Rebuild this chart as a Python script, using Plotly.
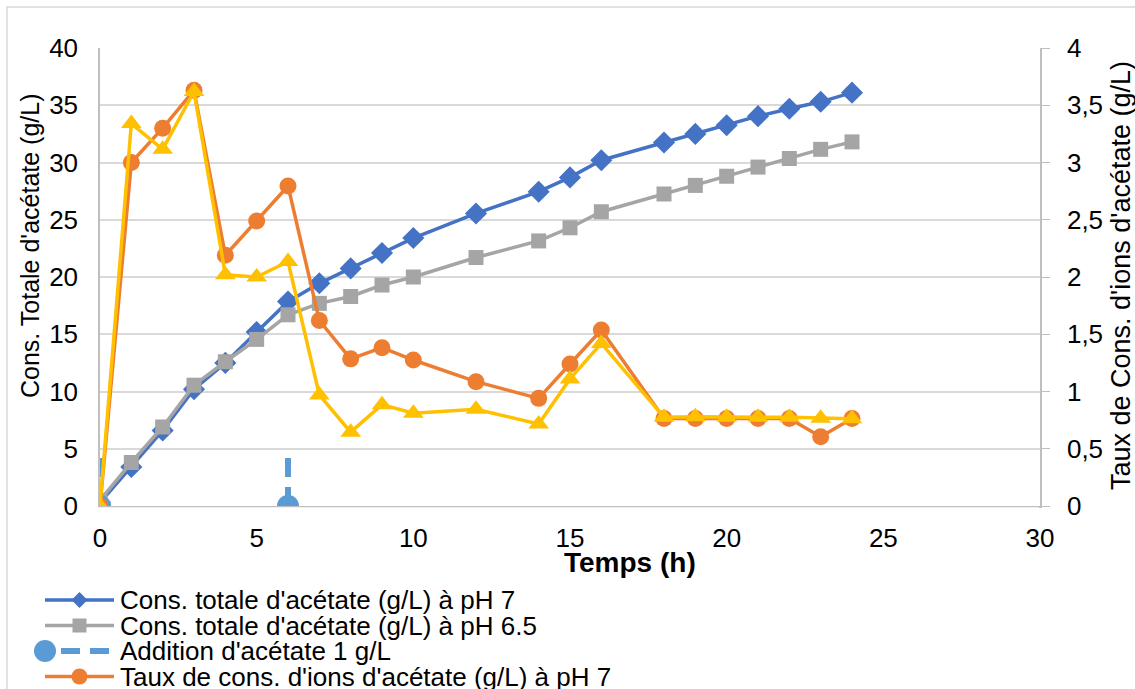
import plotly.graph_objects as go

# Sampling times (h)
hours = [0, 1, 2, 3, 4, 5, 6, 7, 8, 9, 10, 12, 14, 15, 16, 18, 19, 20, 21, 22, 23, 24]

# Total acetate concentration (g/L), left axis
total_ph7 = [0.3, 3.4, 6.6, 10.2, 12.5, 15.2, 17.85, 19.45, 20.75, 22.1, 23.4,
             25.55, 27.45, 28.7, 30.2, 31.75, 32.5, 33.25, 34.05, 34.7, 35.3, 36.1]
total_ph65 = [0.5, 3.8, 6.9, 10.55, 12.6, 14.55, 16.7, 17.7, 18.3, 19.3, 20.0,
              21.7, 23.15, 24.3, 25.7, 27.25, 28.0, 28.8, 29.6, 30.35, 31.15, 31.8]

# Acetate ion consumption rate (g/L), right axis
rate_ph7 = [0, 3.0, 3.3, 3.63, 2.19, 2.49, 2.795, 1.62, 1.285, 1.383, 1.275,
            1.086, 0.94, 1.24, 1.537, 0.765, 0.765, 0.765, 0.765, 0.765, 0.605, 0.765]
rate_ph65 = [0, 3.34, 3.115, 3.62, 2.02, 2.0, 2.135, 0.97, 0.645, 0.885, 0.81,
             0.845, 0.716, 1.11, 1.42, 0.775, 0.78, 0.775, 0.775, 0.775, 0.766, 0.762]

# Acetate additions (1 g/L)
addition_hours = [0, 6]
addition_mark = 4.3

names = [
    "Cons. totale d'acétate (g/L) à pH 7",
    "Cons. totale d'acétate (g/L) à pH 6.5",
    "Addition d'acétate 1 g/L",
    "Taux de cons. d'ions d'acétate (g/L) à pH 7",
    "Taux de cons. d'ions d'acétate (g/L) à pH 6.5",
]
colors = ["#4472C4", "#A5A5A5", "#5B9BD5", "#ED7D31", "#FFC000"]

FONT = "Liberation Sans, Arial, sans-serif"
W, H = 1135, 689
ML, MR, MT, MB = 100, 95, 48, 183
PW, PH = W - ML - MR, H - MT - MB


def px(x):
    return (x - ML) / PW


def py(y):
    return (H - MB - y) / PH


fig = go.Figure()

fig.add_trace(go.Scatter(
    x=hours, y=total_ph7, mode="lines+markers", name=names[0],
    line=dict(color=colors[0], width=3.5),
    marker=dict(symbol="diamond", size=17, color=colors[0]),
))
fig.add_trace(go.Scatter(
    x=hours, y=total_ph65, mode="lines+markers", name=names[1],
    line=dict(color=colors[1], width=3.5),
    marker=dict(symbol="square", size=15, color=colors[1]),
))

# vertical dashed markers for each addition
add_x, add_y = [], []
for h in addition_hours:
    add_x += [h, h, None]
    add_y += [0, addition_mark, None]
fig.add_trace(go.Scatter(
    x=add_x, y=add_y, mode="lines", name=names[2],
    line=dict(color=colors[2], width=6, dash="19px,10px"),
    cliponaxis=True,
))
fig.add_trace(go.Scatter(
    x=addition_hours, y=[0] * len(addition_hours), mode="markers", name=names[2],
    marker=dict(symbol="circle", size=22, color=colors[2], opacity=1, line=dict(width=0)),
    cliponaxis=True,
))

fig.add_trace(go.Scatter(
    x=hours, y=rate_ph7, mode="lines+markers", name=names[3], yaxis="y2",
    line=dict(color=colors[3], width=3.5),
    marker=dict(symbol="circle", size=17, color=colors[3]),
))
fig.add_trace(go.Scatter(
    x=hours, y=rate_ph65, mode="lines+markers", name=names[4], yaxis="y2",
    line=dict(color=colors[4], width=3.5),
    marker=dict(symbol="triangle-up", size=18, color=colors[4]),
))

# ---- legend block below the chart ----
shapes = []
annotations = []
row_y = [600, 625.5, 651, 676.5, 702]
sym_x0, sym_x1, txt_x = 45, 114, 118
for i, (name, col) in enumerate(zip(names, colors)):
    yc = row_y[i]
    cx = (sym_x0 + sym_x1) / 2
    if i == 2:
        shapes.append(dict(type="line", xref="paper", yref="paper",
                           x0=px(sym_x0 + 16), x1=px(sym_x1), y0=py(yc), y1=py(yc),
                           line=dict(color=col, width=6, dash="19px,10px")))
        shapes.append(dict(type="circle", xref="paper", yref="paper",
                           x0=px(34), x1=px(56), y0=py(yc + 11), y1=py(yc - 11),
                           fillcolor=col, line=dict(width=0)))
    else:
        shapes.append(dict(type="line", xref="paper", yref="paper",
                           x0=px(sym_x0), x1=px(sym_x1), y0=py(yc), y1=py(yc),
                           line=dict(color=col, width=3.5)))
        r = 8
        if i == 0:
            path = (f"M{px(cx - r)},{py(yc)} L{px(cx)},{py(yc - r)} "
                    f"L{px(cx + r)},{py(yc)} L{px(cx)},{py(yc + r)} Z")
            shapes.append(dict(type="path", xref="paper", yref="paper", path=path,
                               fillcolor=col, line=dict(width=0)))
        elif i == 1:
            shapes.append(dict(type="rect", xref="paper", yref="paper",
                               x0=px(cx - 7), x1=px(cx + 7), y0=py(yc + 7), y1=py(yc - 7),
                               fillcolor=col, line=dict(width=0)))
        elif i == 3:
            shapes.append(dict(type="circle", xref="paper", yref="paper",
                               x0=px(cx - 8), x1=px(cx + 8), y0=py(yc + 8), y1=py(yc - 8),
                               fillcolor=col, line=dict(width=0)))
        else:
            path = (f"M{px(cx - 9)},{py(yc + 7)} L{px(cx)},{py(yc - 9)} "
                    f"L{px(cx + 9)},{py(yc + 7)} Z")
            shapes.append(dict(type="path", xref="paper", yref="paper", path=path,
                               fillcolor=col, line=dict(width=0)))
    annotations.append(dict(text=name, xref="paper", yref="paper",
                            x=px(txt_x), y=py(yc), xanchor="left", yanchor="middle",
                            showarrow=False, font=dict(family=FONT, size=26, color="black")))

# outer chart frame
shapes.append(dict(type="rect", xref="paper", yref="paper", layer="below",
                   x0=px(7), x1=px(W + 20), y0=py(H + 20), y1=py(7),
                   line=dict(color="#d9d9d9", width=1.5), fillcolor="rgba(0,0,0,0)"))
# keep the addition markers trimmed at the time axis
shapes.append(dict(type="rect", xref="paper", yref="paper", layer="above",
                   x0=px(85), x1=px(1039), y0=py(520), y1=py(507.2),
                   line=dict(width=0), fillcolor="white"))

# axis titles
annotations.append(dict(text="<b>Temps (h)</b>", xref="paper", yref="paper",
                        x=px(630), y=py(562), xanchor="center", yanchor="middle",
                        showarrow=False, font=dict(family=FONT, size=28, color="black")))
annotations.append(dict(text="Cons. Totale d'acétate (g/L)", xref="paper", yref="paper",
                        x=px(30), y=py(246), xanchor="center", yanchor="middle",
                        textangle=-90, showarrow=False,
                        font=dict(family=FONT, size=25, color="black")))
annotations.append(dict(text="Taux de Cons. d'ions d'acétate (g/L)", xref="paper", yref="paper",
                        x=px(1121), y=py(276), xanchor="center", yanchor="middle",
                        textangle=-90, showarrow=False,
                        font=dict(family=FONT, size=27, color="black")))

fig.update_layout(
    width=W, height=H, autosize=False,
    margin=dict(l=ML, r=MR, t=MT, b=MB, pad=0),
    paper_bgcolor="white", plot_bgcolor="white",
    separators=", ",
    showlegend=False,
    font=dict(family=FONT, size=26, color="black"),
    xaxis=dict(range=[0, 30], dtick=5, tick0=0, showgrid=False, zeroline=False,
               showline=True, linecolor="#bfbfbf", linewidth=1.5, ticks="",
               ticklabelstandoff=8, tickfont=dict(size=26, color="black")),
    yaxis=dict(range=[0, 40], dtick=5, tick0=0, showgrid=True, gridcolor="#d9d9d9",
               gridwidth=1.5, zeroline=False, showline=True, linecolor="#bfbfbf",
               linewidth=1.5, ticks="", ticklabelstandoff=15,
               tickfont=dict(size=26, color="black")),
    yaxis2=dict(range=[0, 4], dtick=0.5, tick0=0, overlaying="y", side="right",
                showgrid=False, zeroline=False, showline=True, linecolor="#bfbfbf",
                linewidth=1.5, ticks="outside", ticklen=8, tickcolor="#bfbfbf",
                ticklabelstandoff=12, tickfont=dict(size=26, color="black")),
    shapes=shapes,
    annotations=annotations,
)

fig.write_html("out.html")
